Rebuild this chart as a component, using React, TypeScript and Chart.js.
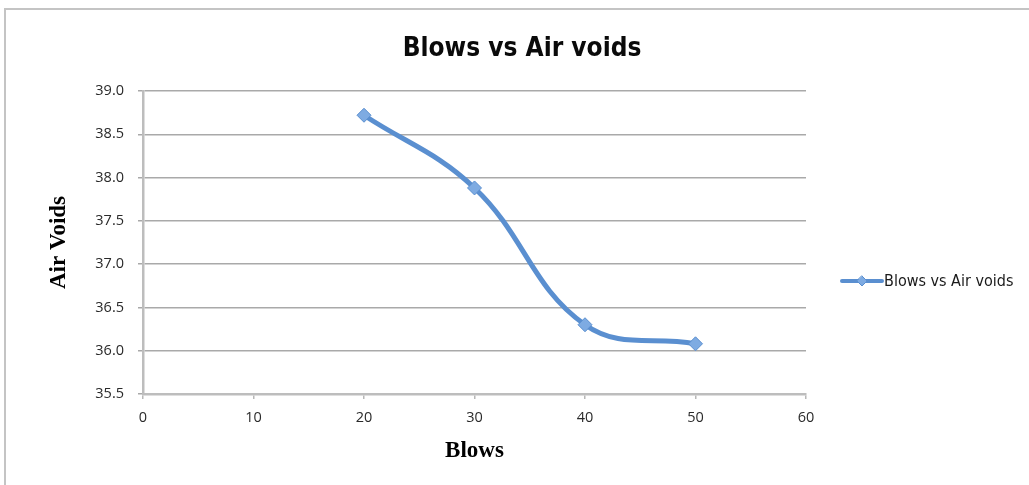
import React, { useEffect, useRef } from "react";
import { Chart, registerables } from "chart.js";

Chart.register(...registerables);

// Compaction data: number of blows against measured air voids (%)
const blows = [20, 30, 40, 50];
const airVoids = [38.72, 37.88, 36.3, 36.08];
const seriesName = "Blows vs Air voids";
const chartTitle = "Blows vs Air voids";
const xAxisTitle = "Blows";
const yAxisTitle = "Air Voids";
const xRange = [0, 60];
const yRange = [35.5, 39.0];

const lineColor = "#5a8fd0";
const markerFill = "#7eabe2";
const narrowFont = '"Liberation Sans Narrow", "DejaVu Sans Condensed", "Liberation Sans", sans-serif';
const tickFont = '"Open Sans", "Noto Sans", sans-serif';
const serifFont = '"Liberation Serif", "Times New Roman", serif';

// Light frame around the chart and the heading centred on the whole canvas
const framePlugin = {
  id: "frame",
  beforeDraw(chart: any) {
    const { ctx, width, height } = chart;
    ctx.save();
    ctx.fillStyle = "#ffffff";
    ctx.fillRect(0, 0, width, height);
    ctx.strokeStyle = "#c4c4c4";
    ctx.lineWidth = 2;
    ctx.beginPath();
    ctx.moveTo(width, 9);
    ctx.lineTo(5, 9);
    ctx.lineTo(5, height);
    ctx.stroke();

    ctx.fillStyle = "#0a0a0a";
    ctx.font = `bold 26px ${narrowFont}`;
    ctx.textAlign = "center";
    ctx.textBaseline = "middle";
    ctx.fillText(chartTitle, 522, 49);
    ctx.restore();
  },
};

// Legend entry at the right: line sample with a diamond, then the series name
const sideLegendPlugin = {
  id: "sideLegend",
  afterDraw(chart: any) {
    const { ctx } = chart;
    const ds = chart.data.datasets[0];
    const y = 281;
    const x0 = 842;
    const x1 = 882;
    const xm = (x0 + x1) / 2;
    ctx.save();
    ctx.strokeStyle = ds.borderColor;
    ctx.lineWidth = 4;
    ctx.lineCap = "round";
    ctx.beginPath();
    ctx.moveTo(x0, y);
    ctx.lineTo(x1, y);
    ctx.stroke();
    const r = 5;
    ctx.fillStyle = ds.pointBackgroundColor;
    ctx.strokeStyle = ds.pointBorderColor;
    ctx.lineWidth = 1;
    ctx.beginPath();
    ctx.moveTo(xm, y - r);
    ctx.lineTo(xm + r, y);
    ctx.lineTo(xm, y + r);
    ctx.lineTo(xm - r, y);
    ctx.closePath();
    ctx.fill();
    ctx.stroke();
    ctx.fillStyle = "#1a1a1a";
    ctx.font = `16px ${narrowFont}`;
    ctx.textBaseline = "middle";
    ctx.textAlign = "left";
    ctx.fillText(ds.label, x1 + 2, y + 1);
    ctx.restore();
  },
};

export default function App() {
  const canvasRef = useRef<HTMLCanvasElement | null>(null);

  useEffect(() => {
    const canvas = canvasRef.current;
    if (!canvas) return;
    const chart = new Chart(canvas, {
      type: "line",
      data: {
        datasets: [
          {
            label: seriesName,
            data: blows.map((b, i) => ({ x: b, y: airVoids[i] })),
            borderColor: lineColor,
            borderWidth: 5,
            tension: 0.4,
            pointStyle: "rectRot",
            pointRadius: 7,
            pointBackgroundColor: markerFill,
            pointBorderColor: lineColor,
            pointBorderWidth: 1,
            fill: false,
          },
        ],
      },
      options: {
        animation: false,
        responsive: false,
        layout: { padding: { top: 91, left: 20, right: 223, bottom: 10 } },
        plugins: {
          legend: { display: false },
          tooltip: { enabled: false },
          title: { display: false },
        },
        scales: {
          x: {
            type: "linear",
            min: xRange[0],
            max: xRange[1],
            afterFit(scale: any) {
              scale.height = 81;
            },
            ticks: {
              stepSize: 10,
              color: "#2a2a2a",
              font: { family: tickFont, size: 14.5 },
              padding: 10,
            },
            grid: {
              display: true,
              drawOnChartArea: false,
              drawTicks: true,
              tickLength: 5,
              color: "#b8b8b8",
              lineWidth: 1.5,
            },
            border: { display: true, color: "#bdbdbd", width: 2.5 },
            title: {
              display: true,
              text: xAxisTitle,
              color: "#000000",
              font: { family: serifFont, size: 23, weight: "bold" },
              padding: { top: 0, bottom: 10 },
            },
          },
          y: {
            min: yRange[0],
            max: yRange[1],
            afterFit(scale: any) {
              scale.width = 123;
            },
            ticks: {
              stepSize: 0.5,
              color: "#2a2a2a",
              font: { family: tickFont, size: 14.5 },
              padding: 14,
              callback: (v: any) => Number(v).toFixed(1),
            },
            grid: {
              display: true,
              drawTicks: true,
              tickLength: 5,
              color: "#a9a9a9",
              lineWidth: 1.5,
            },
            border: { display: true, color: "#bdbdbd", width: 2.5 },
            title: {
              display: true,
              text: yAxisTitle,
              color: "#000000",
              font: { family: serifFont, size: 23, weight: "bold" },
              padding: { top: 25, bottom: 0 },
            },
          },
        },
      },
      plugins: [framePlugin, sideLegendPlugin],
    });
    return () => chart.destroy();
  }, []);

  return (
    <div style={{ position: "fixed", left: 0, top: 0, width: 1029, height: 485 }}>
      <canvas ref={canvasRef} width={1029} height={485} style={{ display: "block" }} />
    </div>
  );
}
